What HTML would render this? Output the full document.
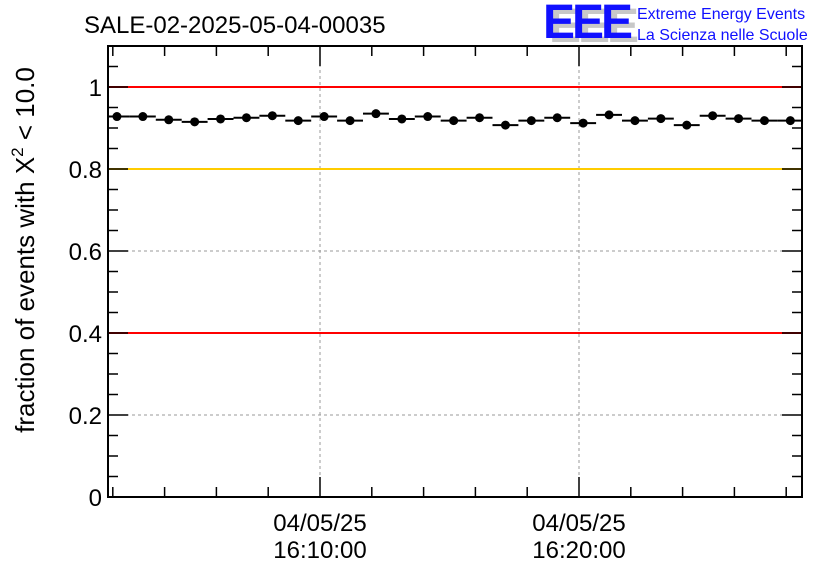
<!DOCTYPE html>
<html><head><meta charset="utf-8"><style>
body{margin:0;background:#fff;width:836px;height:572px;overflow:hidden}
svg{display:block}
text{font-family:"Liberation Sans",sans-serif}
</style></head><body>
<svg id="chart" width="836" height="572" viewBox="0 0 836 572">
<g id="grid"></g>
<g id="refs"></g>
<g id="marks"></g>
<g id="axes"></g>
<text x="84" y="33" font-size="24">SALE-02-2025-05-04-00035</text>
<g>
<text x="549" y="42" font-size="48" font-weight="bold" fill="#c8c8c8" letter-spacing="-3">EEE</text>
<text x="543" y="38" font-size="48" font-weight="bold" fill="#1010ff" letter-spacing="-3">EEE</text>
<text x="637" y="19" font-size="16" fill="#1010ff">Extreme Energy Events</text>
<text x="637" y="40" font-size="16" fill="#1010ff">La Scienza nelle Scuole</text>
</g>
<text transform="translate(34,250) rotate(-90)" text-anchor="middle" font-size="26">fraction of events with X<tspan dy="-11" font-size="17">2</tspan><tspan dy="11"> &lt; 10.0</tspan></text>
</svg>
<script>
const values=[0.928,0.928,0.920,0.915,0.922,0.925,0.930,0.918,0.928,0.918,0.935,0.922,0.928,0.918,0.925,0.907,0.918,0.925,0.912,0.932,0.918,0.923,0.907,0.930,0.923,0.918,0.918];
const binStartMin=1.66; // minutes after 16:00 of first bin start
const yTicks=[0,0.2,0.4,0.6,0.8,1];
const yTickLabels=["0","0.2","0.4","0.6","0.8","1"];
const xTicks=[10,20];
const xTickLabels=[["04/05/25","16:10:00"],["04/05/25","16:20:00"]];
const refLines=[{v:1,c:"#ff0000"},{v:0.8,c:"#ffcc00"},{v:0.4,c:"#ff0000"}];

const L=108,R=802,T=46,B=497;
const X=t=>320+(t-10)*25.9;
const Y=v=>B-(v/1.1)*(B-T);
const NS="http://www.w3.org/2000/svg";
function mk(p,tag,a){const e=document.createElementNS(NS,tag);for(const k in a)e.setAttribute(k,a[k]);p.appendChild(e);return e;}
const grid=document.getElementById('grid'),refs=document.getElementById('refs'),marks=document.getElementById('marks'),axes=document.getElementById('axes');
yTicks.forEach(v=>{if(v>0){const l=mk(grid,'line',{x1:L,x2:R,y1:Y(v),y2:Y(v),stroke:'#999','stroke-dasharray':'3,3'});

}});
xTicks.forEach(t=>{const l=mk(grid,'line',{x1:X(t),x2:X(t),y1:T,y2:B,stroke:'#999','stroke-dasharray':'3,3'});

});
refLines.forEach(r=>{const l=mk(refs,'line',{x1:L,x2:R,y1:Y(r.v),y2:Y(r.v),stroke:r.c,'stroke-width':2});

});
values.forEach((v,i)=>{const t0=binStartMin+i,t1=t0+1,y=Y(v);
const g=mk(marks,'g',{});


mk(g,'line',{x1:Math.max(L,X(t0)),x2:Math.min(R,X(t1)),y1:y,y2:y,stroke:'#000','stroke-width':2});
mk(g,'circle',{cx:X(t0+0.5),cy:y,r:4.5,fill:'#000'});});
const f=mk(axes,'rect',{x:L,y:T,width:R-L,height:B-T,fill:'none',stroke:'#000','stroke-width':2});


for(let v=0;v<=1.1001;v+=0.05){const maj=Math.abs(v*5-Math.round(v*5))<1e-6;const len=maj?20:10;
mk(axes,'line',{x1:L,x2:L+len,y1:Y(v),y2:Y(v),stroke:'#000','stroke-width':1.5});
mk(axes,'line',{x1:R,x2:R-len,y1:Y(v),y2:Y(v),stroke:'#000','stroke-width':1.5});}
yTicks.forEach((v,i)=>{const t=mk(axes,'text',{x:L-6,y:Y(v)+9,'text-anchor':'end','font-size':24});t.textContent=yTickLabels[i];

});
for(let t=2;t<=28;t+=2){const maj=t%10==0;const len=maj?20:10;
mk(axes,'line',{x1:X(t),x2:X(t),y1:B,y2:B-len,stroke:'#000','stroke-width':1.5});
mk(axes,'line',{x1:X(t),x2:X(t),y1:T,y2:T+len,stroke:'#000','stroke-width':1.5});}
xTicks.forEach((t,i)=>{xTickLabels[i].forEach((s,j)=>{const e=mk(axes,'text',{x:X(t),y:531+j*27,'text-anchor':'middle','font-size':24});e.textContent=s;

});});
</script>
</body></html>
